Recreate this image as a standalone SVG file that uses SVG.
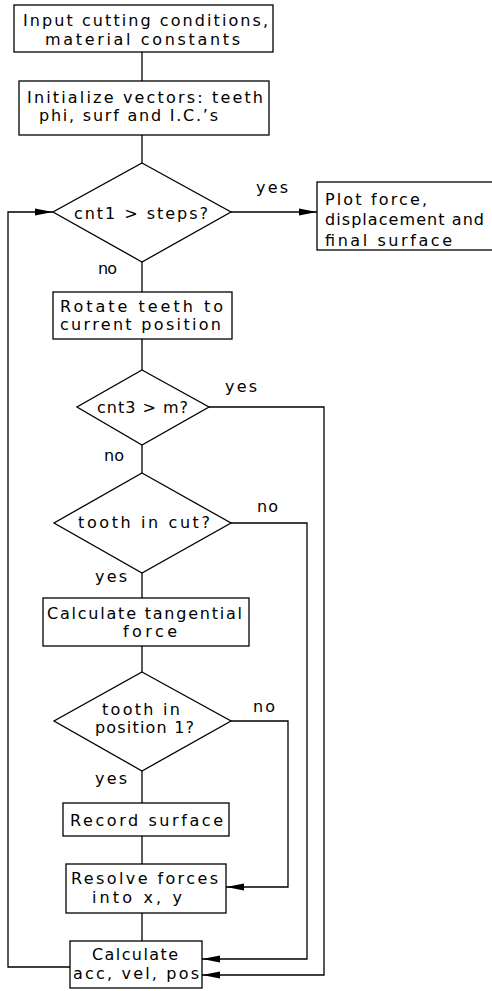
<svg xmlns="http://www.w3.org/2000/svg" width="492" height="991" viewBox="0 0 492 991">
<style>
.b{fill:#fff;stroke:#000;stroke-width:1.3}
.c{fill:none;stroke:#000;stroke-width:1.3}
text{font-family:"DejaVu Sans","Liberation Sans",sans-serif;font-size:16px;fill:#000}
</style>
<defs>
<marker id="ah2" markerWidth="18" markerHeight="8" refX="18" refY="4" orient="auto" markerUnits="userSpaceOnUse">
<path d="M0,0.6 L18,4 L0,7.4 Z" fill="#000"/>
</marker>
</defs>
<rect width="492" height="991" fill="#fff"/>
<g id="connectors">
<path class="c" d="M142,52 V81"/>
<path class="c" d="M142,135 V163"/>
<path class="c" d="M231,212 H317" marker-end="url(#ah2)"/>
<path class="c" d="M142,262 V292"/>
<path class="c" d="M142,339 V370"/>
<path class="c" d="M142,445 V473"/>
<path class="c" d="M142,573 V598"/>
<path class="c" d="M142,646 V672"/>
<path class="c" d="M142,771 V803"/>
<path class="c" d="M142,836 V864"/>
<path class="c" d="M142,913 V941"/>
<path class="c" d="M70,967 H8 V212 H53" marker-end="url(#ah2)"/>
<path class="c" d="M209,407 H324 V975 H202" marker-end="url(#ah2)"/>
<path class="c" d="M231,523 H307 V959 H202" marker-end="url(#ah2)"/>
<path class="c" d="M231,721 H288 V887 H226" marker-end="url(#ah2)"/>
</g>
<g id="n1"><rect class="b" x="14" y="5" width="259" height="47"/>
<text x="23" y="26" textLength="245" lengthAdjust="spacing">Input cutting conditions,</text>
<text x="45" y="45" textLength="195" lengthAdjust="spacing">material constants</text></g>
<g id="n2"><rect class="b" x="19" y="81" width="250" height="54"/>
<text x="27" y="103" textLength="236" lengthAdjust="spacing">Initialize vectors: teeth</text>
<text x="39" y="121" textLength="179" lengthAdjust="spacing">phi, surf and I.C.’s</text></g>
<g id="d1"><path class="b" d="M142,163 L231,212 L142,262 L53,212 Z"/>
<text x="74" y="219" textLength="134" lengthAdjust="spacing">cnt1 &gt; steps?</text></g>
<g id="n3"><rect class="b" x="317" y="182" width="180" height="68"/>
<text x="325" y="205" textLength="102" lengthAdjust="spacing">Plot force,</text>
<text x="325" y="225" textLength="159" lengthAdjust="spacing">displacement and</text>
<text x="325" y="246" textLength="127" lengthAdjust="spacing">final surface</text></g>
<g id="n4"><rect class="b" x="53" y="292" width="179" height="47"/>
<text x="60" y="312" textLength="163" lengthAdjust="spacing">Rotate teeth to</text>
<text x="60" y="330" textLength="161" lengthAdjust="spacing">current position</text></g>
<g id="d2"><path class="b" d="M142,370 L209,407 L142,445 L77,407 Z"/>
<text x="97" y="413" textLength="91" lengthAdjust="spacing">cnt3 &gt; m?</text></g>
<g id="d3"><path class="b" d="M142,473 L231,523 L142,573 L54,523 Z"/>
<text x="78" y="528" textLength="132" lengthAdjust="spacing">tooth in cut?</text></g>
<g id="n5"><rect class="b" x="43" y="598" width="206" height="48"/>
<text x="47" y="619" textLength="195" lengthAdjust="spacing">Calculate tangential</text>
<text x="123" y="637" textLength="54" lengthAdjust="spacing">force</text></g>
<g id="d4"><path class="b" d="M142,672 L231,721 L142,771 L54,721 Z"/>
<text x="102" y="715" textLength="78" lengthAdjust="spacing">tooth in</text>
<text x="95" y="733" textLength="99" lengthAdjust="spacing">position 1?</text></g>
<g id="n6"><rect class="b" x="63" y="803" width="166" height="33"/>
<text x="70" y="826" textLength="153" lengthAdjust="spacing">Record surface</text></g>
<g id="n7"><rect class="b" x="66" y="864" width="160" height="49"/>
<text x="71" y="884" textLength="147" lengthAdjust="spacing">Resolve forces</text>
<text x="92" y="903" textLength="90" lengthAdjust="spacing">into x, y</text></g>
<g id="n8"><rect class="b" x="70" y="941" width="132" height="47"/>
<text x="92" y="960" textLength="86" lengthAdjust="spacing">Calculate</text>
<text x="73" y="979" textLength="126" lengthAdjust="spacing">acc, vel, pos</text></g>
<g id="labels">
<text x="256" y="193" textLength="32" lengthAdjust="spacing">yes</text>
<text x="98" y="274" textLength="19" lengthAdjust="spacing">no</text>
<text x="225" y="392" textLength="32" lengthAdjust="spacing">yes</text>
<text x="104" y="461" textLength="20" lengthAdjust="spacing">no</text>
<text x="257" y="512" textLength="21" lengthAdjust="spacing">no</text>
<text x="95" y="582" textLength="32" lengthAdjust="spacing">yes</text>
<text x="253" y="712" textLength="22" lengthAdjust="spacing">no</text>
<text x="95" y="784" textLength="32" lengthAdjust="spacing">yes</text>
</g>
</svg>
